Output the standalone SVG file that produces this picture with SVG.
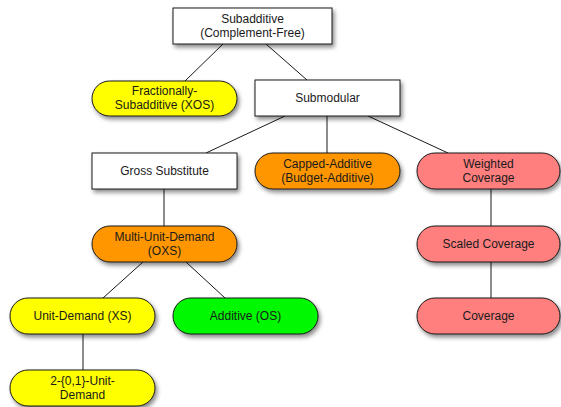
<svg xmlns="http://www.w3.org/2000/svg" width="561" height="407" viewBox="0 0 561 407">
  <defs>
    <filter id="shadow" x="-20%" y="-30%" width="150%" height="180%">
      <feDropShadow dx="2" dy="3" stdDeviation="2" flood-color="#000" flood-opacity="0.45"/>
    </filter>
    <style>
      .node { stroke: #1a1a1a; stroke-width: 1; filter: url(#shadow); }
      .box { fill: #ffffff; }
      .yellow { fill: #ffff00; }
      .orange { fill: #ff9600; }
      .pink { fill: #ff7f7f; }
      .green { fill: #00f800; }
      .edge { stroke: #1a1a1a; stroke-width: 1; fill: none; }
      text { font-family: "Liberation Sans", Arial, Helvetica, sans-serif; font-size: 12px; fill: #1a1a1a; text-anchor: middle; }
    </style>
  </defs>
  <rect width="561" height="407" fill="#ffffff"/>

  <g id="connectors">
    <line class="edge" x1="223" y1="44" x2="185" y2="81"/>
    <line class="edge" x1="266" y1="44" x2="307" y2="80"/>
    <line class="edge" x1="285" y1="116" x2="206" y2="153"/>
    <line class="edge" x1="327" y1="116" x2="327" y2="153"/>
    <line class="edge" x1="368" y1="116" x2="448" y2="153"/>
    <line class="edge" x1="164" y1="189" x2="164" y2="226"/>
    <line class="edge" x1="491" y1="189" x2="491" y2="226"/>
    <line class="edge" x1="491" y1="262" x2="491" y2="298"/>
    <line class="edge" x1="143" y1="262" x2="103" y2="298"/>
    <line class="edge" x1="186" y1="262" x2="225" y2="298"/>
    <line class="edge" x1="83" y1="334" x2="83" y2="370"/>
  </g>

  <g id="subadditive">
    <rect class="node box" x="173" y="8" width="159" height="36"/>
    <text x="252.5" y="23">Subadditive</text>
    <text x="252.5" y="37">(Complement-Free)</text>
  </g>
  <g id="fractionally-subadditive">
    <rect class="node yellow" x="92" y="81" width="145" height="35" rx="17.5"/>
    <text x="164.5" y="95">Fractionally-</text>
    <text x="164.5" y="109">Subadditive (XOS)</text>
  </g>
  <g id="submodular">
    <rect class="node box" x="255" y="80" width="145" height="36"/>
    <text x="327.5" y="102">Submodular</text>
  </g>
  <g id="gross-substitute">
    <rect class="node box" x="92" y="153" width="145" height="36"/>
    <text x="164.5" y="175">Gross Substitute</text>
  </g>
  <g id="capped-additive">
    <rect class="node orange" x="255" y="153" width="145" height="36" rx="18"/>
    <text x="327.5" y="168">Capped-Additive</text>
    <text x="327.5" y="182">(Budget-Additive)</text>
  </g>
  <g id="weighted-coverage">
    <rect class="node pink" x="417" y="153" width="143" height="36" rx="18"/>
    <text x="488.5" y="168">Weighted</text>
    <text x="488.5" y="182">Coverage</text>
  </g>
  <g id="multi-unit-demand">
    <rect class="node orange" x="92" y="226" width="145" height="36" rx="18"/>
    <text x="164.5" y="241">Multi-Unit-Demand</text>
    <text x="164.5" y="255">(OXS)</text>
  </g>
  <g id="scaled-coverage">
    <rect class="node pink" x="417" y="226" width="143" height="36" rx="18"/>
    <text x="488.5" y="248">Scaled Coverage</text>
  </g>
  <g id="unit-demand">
    <rect class="node yellow" x="10" y="298" width="145" height="36" rx="18"/>
    <text x="82.5" y="320">Unit-Demand (XS)</text>
  </g>
  <g id="additive">
    <rect class="node green" x="173" y="298" width="145" height="36" rx="18"/>
    <text x="245.5" y="320">Additive (OS)</text>
  </g>
  <g id="coverage">
    <rect class="node pink" x="417" y="298" width="143" height="36" rx="18"/>
    <text x="488.5" y="320">Coverage</text>
  </g>
  <g id="two-01-unit-demand">
    <rect class="node yellow" x="10" y="370" width="145" height="36" rx="18"/>
    <text x="82.5" y="385">2-{0,1}-Unit-</text>
    <text x="82.5" y="399">Demand</text>
  </g>
</svg>
